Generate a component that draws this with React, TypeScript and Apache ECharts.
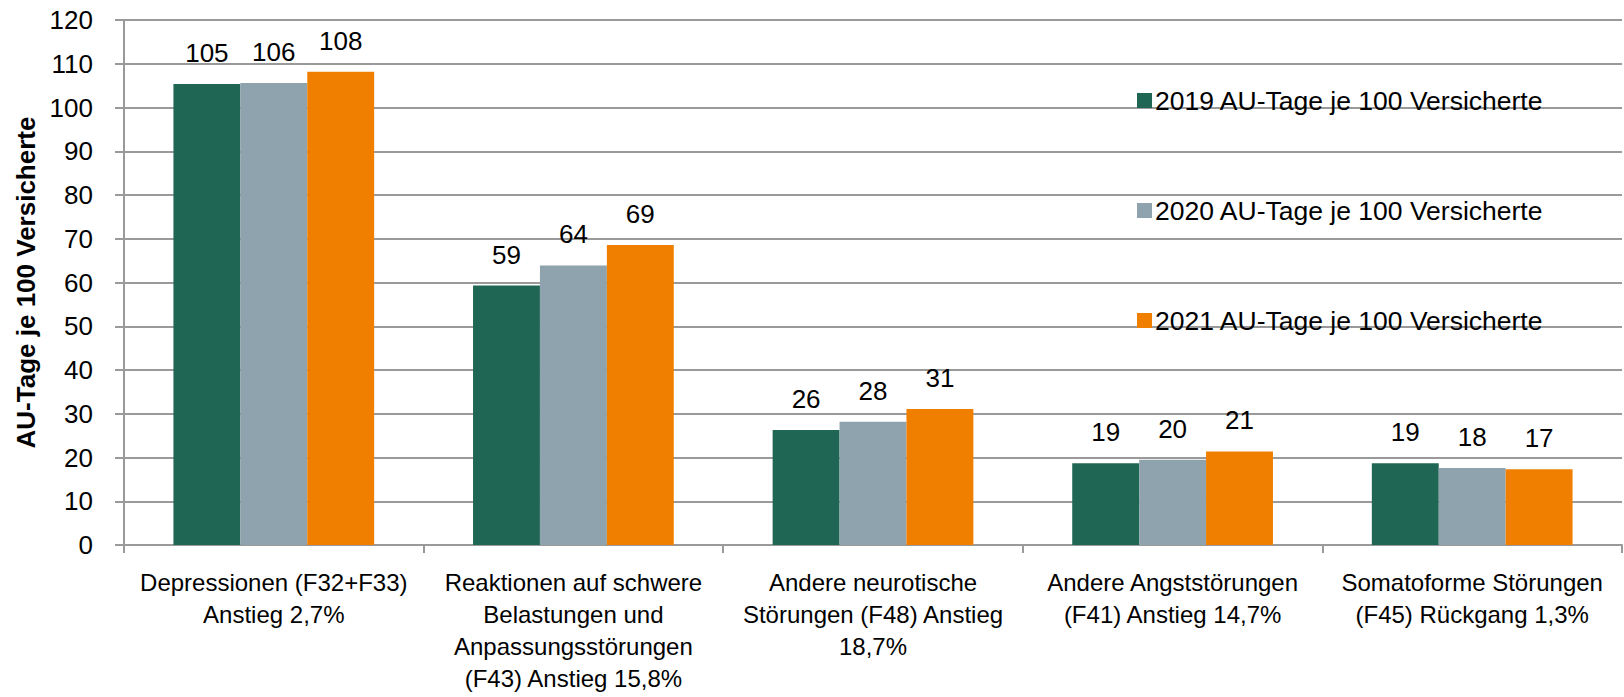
import React, { useEffect, useRef } from "react";
import * as echarts from "echarts";

const categories = [
  "Depressionen (F32+F33)\nAnstieg 2,7%",
  "Reaktionen auf schwere\nBelastungen und\nAnpassungsstörungen\n(F43) Anstieg 15,8%",
  "Andere neurotische\nStörungen (F48) Anstieg\n18,7%",
  "Andere Angststörungen\n(F41) Anstieg 14,7%",
  "Somatoforme Störungen\n(F45) Rückgang 1,3%",
];
const seriesNames = [
  "2019 AU-Tage je 100 Versicherte",
  "2020 AU-Tage je 100 Versicherte",
  "2021 AU-Tage je 100 Versicherte",
];
const values2019 = [105.4, 59.3, 26.3, 18.7, 18.7];
const values2020 = [105.6, 63.9, 28.2, 19.5, 17.6];
const values2021 = [108.2, 68.6, 31.1, 21.4, 17.3];
const colors = ["#206654", "#8EA3AD", "#F07F00"];
const yAxisTitle = "AU-Tage je 100 Versicherte";

const FONT = "'Liberation Sans Narrow', 'Arial Narrow', 'Liberation Sans', Arial, sans-serif";

export default function App() {
  const ref = useRef<HTMLDivElement>(null);
  useEffect(() => {
    if (!ref.current) return;
    const chart = echarts.init(ref.current, undefined, { renderer: "svg" });
    const allValues = [values2019, values2020, values2021];
    chart.setOption({
      animation: false,
      textStyle: { fontFamily: FONT },
      grid: { left: 124, right: 2, top: 20, bottom: 152, containLabel: false },
      legend: {
        orient: "vertical",
        left: 1132,
        top: 82,
        itemWidth: 15,
        itemHeight: 15,
        itemGap: 83,
        icon: "rect",
        textStyle: { fontFamily: FONT, fontSize: 26.5, color: "#000", padding: [0, 0, 0, -2] },
        data: seriesNames,
      },
      xAxis: {
        type: "category",
        data: categories,
        axisLine: { lineStyle: { color: "#9a9a9a", width: 2 } },
        axisTick: { show: true, length: 8, lineStyle: { color: "#9a9a9a", width: 2 } },
        axisLabel: {
          interval: 0,
          color: "#000",
          fontFamily: FONT,
          fontSize: 24,
          lineHeight: 32,
          margin: 21,
          align: "center",
        },
      },
      yAxis: {
        type: "value",
        min: 0,
        max: 120,
        interval: 10,
        name: yAxisTitle,
        nameLocation: "middle",
        nameGap: 81,
        nameTextStyle: { fontFamily: FONT, fontSize: 26, fontWeight: "bold", color: "#000" },
        axisLine: { show: true, lineStyle: { color: "#9a9a9a", width: 2 } },
        axisTick: { show: true, length: 9, lineStyle: { color: "#9a9a9a", width: 2 } },
        splitLine: { show: true, lineStyle: { color: "#9a9a9a", width: 2 } },
        axisLabel: { color: "#000", fontFamily: FONT, fontSize: 26, margin: 31 },
      },
      series: seriesNames.map((name, i) => ({
        name,
        type: "bar",
        data: allValues[i],
        barGap: "0%",
        barCategoryGap: "33%",
        itemStyle: { color: colors[i] },
        label: {
          show: true,
          position: "top",
          distance: 18,
          color: "#000",
          fontFamily: FONT,
          fontSize: 26,
          formatter: (p: any) => String(Math.round(p.value)),
        },
      })),
    });
    return () => chart.dispose();
  }, []);
  return (
    <div
      ref={ref}
      style={{ position: "fixed", left: 0, top: 0, width: 1624, height: 697, background: "#fff" }}
    />
  );
}
